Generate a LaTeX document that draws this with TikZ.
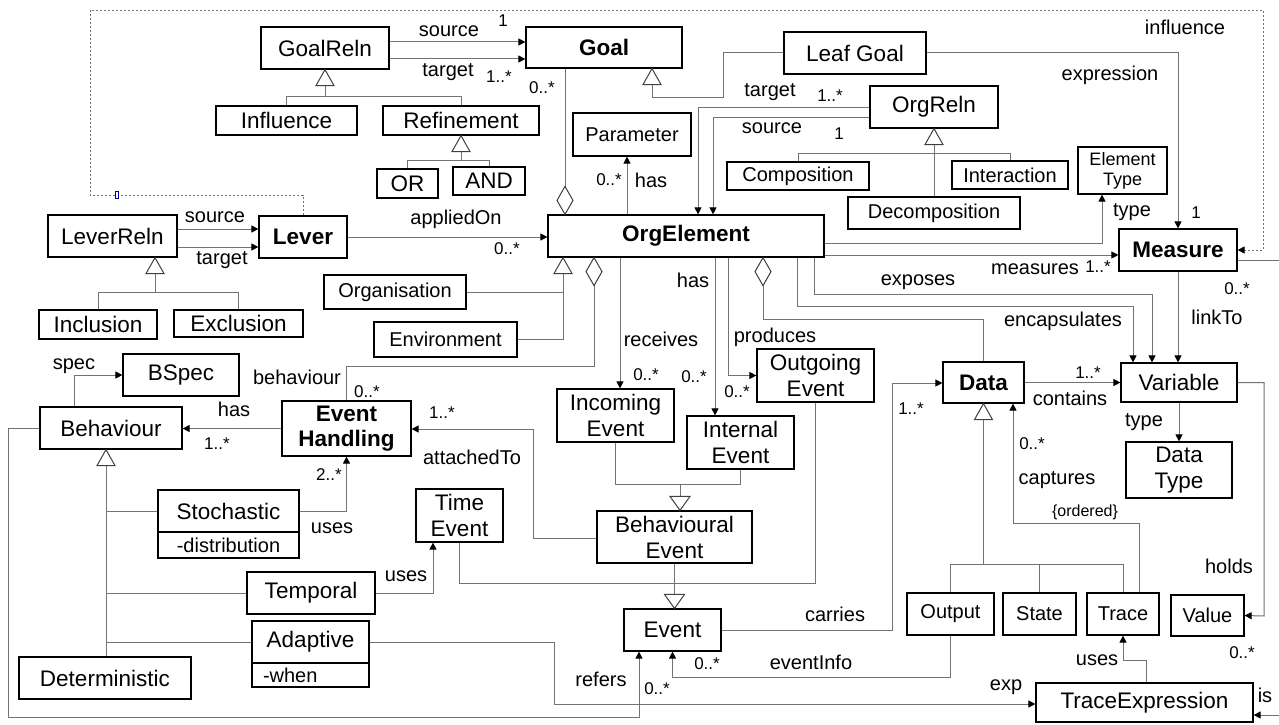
\documentclass[tikz,border=0pt]{standalone}
\usepackage{fontspec}
\setmainfont{Liberation Sans}
\usetikzlibrary{arrows.meta,calc}

% text sizes
\newcommand\fcls{\fontsize{22.5}{26}\selectfont}
\newcommand\fbold{\fontsize{22.5}{25}\selectfont\bfseries}
\newcommand\fsm{\fontsize{20}{24}\selectfont}
\newcommand\fet{\fontsize{18}{20}\selectfont}
\newcommand\fmul{\fontsize{17}{20}\selectfont}
\newcommand\ford{\fontsize{16}{18}\selectfont}

% class box given by its corners: [style]{name}{x1}{y1}{x2}{y2}{text}
\newcommand\umlcls[7][]{%
  \node[cls,#1,minimum width={#5-#3},minimum height={#6-#4}] (#2) at ({(#3+#5)/2},{(#4+#6)/2}) {#7};}
% open generalisation triangles (apex on the parent)
\newcommand\genup[1]{\draw[gen] (#1) -- ++(-9,16) -- ++(18,0) -- cycle;}
\newcommand\gendown[1]{\draw[gen] (#1) -- ++(-10,-14) -- ++(20,0) -- cycle;}
% aggregation diamonds
\newcommand\aggup[1]{\draw[gen] (#1) -- ++(-8,-14) -- ++(8,-14) -- ++(8,14) -- cycle;}
\newcommand\aggdown[1]{\draw[gen] (#1) -- ++(-8,14) -- ++(8,14) -- ++(8,-14) -- cycle;}

\tikzset{
  cls/.style={draw=black, line width=1.2pt, fill=white, inner sep=0pt, align=center, font=\fcls},
  conn/.style={draw=black!55, line width=1pt},
  arr/.style={conn, -{Triangle[length=7pt,width=7pt,color=black]}},
  infl/.style={draw=black!55, line width=0.9pt, dash pattern=on 2pt off 2pt, -{Triangle[length=7pt,width=7pt,color=black]}},
  gen/.style={draw=black!75, line width=1pt, fill=white},
  lbl/.style={inner sep=0pt, font=\fsm},
  mul/.style={inner sep=0pt, font=\fmul},
  ord/.style={inner sep=0pt, font=\ford},
}

\begin{document}
\begin{tikzpicture}[x=1pt,y=-1pt]
\useasboundingbox[fill=white] (0,0) rectangle (1279,725);

% ---------- classes ----------
\umlcls{GR}{261}{27}{389}{69}{GoalReln}
\umlcls[font=\fbold]{Goal}{526}{27}{682}{68}{Goal}
\umlcls{Infl}{216}{106}{357}{135}{Influence}
\umlcls{Ref}{383}{106}{539}{135}{Refinement}
\umlcls{OR}{377}{169}{438}{198}{OR}
\umlcls{AND}{453}{167}{525}{195}{AND}
\umlcls{Leaf}{784}{32}{926}{74}{Leaf Goal}
\umlcls{OrgR}{870}{86}{998}{128}{OrgReln}
\umlcls[font=\fsm]{Param}{573}{113}{691}{156}{Parameter}
\umlcls[font=\fsm]{Comp}{727}{162}{869}{190}{Composition}
\umlcls[font=\fsm]{Decomp}{848}{197}{1020}{229}{Decomposition}
\umlcls[font=\fsm]{Inter}{952}{161}{1068}{189}{Interaction}
\umlcls[font=\fet]{ET}{1078}{147}{1167}{194}{Element\\Type}
\umlcls{LR}{48}{215}{177}{257}{LeverReln}
\umlcls[font=\fbold]{Lever}{259}{216}{347}{258}{Lever}
\umlcls[font=\fbold]{OE}{548}{215}{824}{257}{OrgElement}
\umlcls[font=\fbold]{Meas}{1119}{229}{1237}{271}{Measure}
\umlcls{Incl}{39}{310}{157}{339}{Inclusion}
\umlcls{Excl}{174}{310}{303}{337}{Exclusion}
\umlcls[font=\fsm]{Org}{324}{275}{466}{309}{Organisation}
\umlcls[font=\fsm]{Env}{374}{322}{517}{357}{Environment}
\umlcls{BSpec}{123}{354}{239}{396}{BSpec}
\umlcls{Beh}{40}{407}{182}{449}{Behaviour}
\umlcls[font=\fbold]{EH}{282}{401}{411}{456}{Event\\Handling}
\umlcls{Inc}{557}{389}{674}{442}{Incoming\\Event}
\umlcls{Int}{687}{416}{794}{469}{Internal\\Event}
\umlcls{Out}{757}{349}{874}{402}{Outgoing\\Event}
\umlcls[font=\fbold]{Data}{943}{362}{1024}{403}{Data}
\umlcls{Var}{1121}{363}{1237}{402}{Variable}
\umlcls{DT}{1126}{442}{1232}{498}{Data\\Type}
\umlcls{Stoch}{158}{490}{299}{532}{Stochastic}
\umlcls[font=\fsm]{StochA}{158}{532}{299}{558}{-distribution}
\umlcls{TE}{416}{489}{503}{542}{Time\\Event}
\umlcls{BE}{597}{511}{752}{563}{Behavioural\\Event}
\umlcls{Temp}{247}{572}{375}{614}{Temporal}
\umlcls{Adapt}{252}{621}{369}{663}{Adaptive}
\umlcls[font=\fsm,align=left,text width=95pt]{AdaptA}{252}{663}{369}{687}{-when}
\umlcls{Det}{19}{657}{191}{699}{Deterministic}
\umlcls{Ev}{624}{609}{721}{651}{Event}
\umlcls[font=\fsm]{Outp}{907}{593}{994}{635}{Output}
\umlcls[font=\fsm]{State}{1003}{593}{1076}{635}{State}
\umlcls[font=\fsm]{Trace}{1087}{593}{1159}{635}{Trace}
\umlcls[font=\fsm]{Val}{1171}{595}{1244}{636}{Value}
\umlcls{TX}{1036}{683}{1253}{722}{TraceExpression}

\coordinate (isA) at (1279,260);
\coordinate (isB) at (1279,715);

% ---------- goal relations ----------
\draw[arr] (GR.east |- 0,42) -- (Goal.west |- 0,42);
\draw[arr] (GR.east |- 0,59) -- (Goal.west |- 0,59);
\draw[conn] ($(GR.south)+(0,16)$) -- (GR.south |- 0,96);
\draw[conn] (Infl.north) |- (Ref.north |- 0,96) -- (Ref.north);
\genup{GR.south}
\draw[conn] ($(Ref.south)+(0,16)$) -- (Ref.south |- 0,160);
\draw[conn] (OR.north) |- (AND.north |- 0,160) -- (AND.north);
\genup{Ref.south}

% goal aggregates org elements
\draw[conn] (Goal.south -| 565,0) -- (OE.north -| 565,0);
\aggup{OE.north -| 565,0}

% leaf goal
\draw[conn] (Leaf.west) -| (723,97) -| ($(Goal.south -| 652,0)+(0,16)$);
\genup{Goal.south -| 652,0}
\draw[arr] (Leaf.east) -| (Meas.north);

% org relations
\draw[arr] (OrgR.west |- 0,107) -| (OE.north -| 698,0);
\draw[arr] (OrgR.west |- 0,117) -| (OE.north -| 713,0);
\draw[conn] ($(OrgR.south)+(0,16)$) -- (Decomp.north);
\draw[conn] (Comp.north) |- (Inter.north |- 0,153) -- (Inter.north);
\genup{OrgR.south}

% parameter
\draw[arr] (OE.north -| 627,0) -- (Param.south -| 627,0);

% levers
\draw[arr] (LR.east |- 0,229) -- (Lever.west |- 0,229);
\draw[arr] (LR.east |- 0,247) -- (Lever.west |- 0,247);
\draw[conn] ($(LR.south -| 155,0)+(0,16)$) -- (155,292);
\draw[conn] (Incl.north) |- (Excl.north |- 0,292) -- (Excl.north);
\genup{LR.south -| 155,0}
\draw[arr] (Lever.east) -- (OE.west |- Lever.east);

% influence of a lever on a measure
\draw[infl] (Lever.north) |- (90,195) |- (1263,10) |- (Meas.east);
\draw[blue!60!black, line width=0.7pt, fill=white] (115.5,191.5) rectangle (118.5,198.5);

% org element to element type and measure
\draw[arr] (OE.east |- 0,243) -| (ET.south -| 1102,0);
\draw[arr] (OE.east |- 0,255) -- (Meas.west |- 0,255);
\draw[arr] (Meas.south) -- (Var.north -| Meas.south);
\draw[conn] (Meas.east |- 0,260) -- (isA);
\draw[arr] (isB) -- (TX.east |- isB);

% org element to variables and data
\draw[arr] (OE.south -| 814,0) |- (1152,294) -- (Var.north -| 1152,0);
\draw[arr] (OE.south -| 797,0) |- (1133,306) -- (Var.north -| 1133,0);
\draw[conn] (OE.south -| 763,0) |- (Data.north |- 0,319) -- (Data.north);
\aggdown{OE.south -| 763,0}

% data
\draw[arr] (Data.east) -- (Var.west |- Data.east);
\draw[arr] (Var.south) -- (DT.north);
\draw[arr] (Var.east) -| (1264,616) -- (Val.east);
\draw[conn] ($(Data.south)+(0,16)$) -- (Data.south |- 0,564);
\draw[conn] (Outp.north) |- (Trace.north |- 0,564) -- (Trace.north);
\draw[conn] (State.north) -- (State.north |- 0,564);
\genup{Data.south}
\draw[arr] (Trace.north -| 1139,0) |- (1013,523) -- (Data.south -| 1013,0);
\draw[arr] (TX.north -| 1146,0) |- (1123,660) -- (Trace.south);

% events
\draw[arr] (OE.south -| 620,0) -- (Inc.north -| 620,0);
\draw[arr] (OE.south -| 715,0) -- (Int.north -| 715,0);
\draw[arr] (OE.south -| 728,0) |- (Out.west);
\draw[conn] (Inc.south) |- (Int.south |- 0,484) -- (Int.south);
\draw[conn] (680,484) -- ($(BE.north -| 680,0)+(0,-14)$);
\gendown{BE.north -| 680,0}
\draw[conn] (BE.south) -- ($(Ev.north -| BE.south)+(0,-14)$);
\draw[conn] (TE.south) |- (Out.south |- 0,583) -- (Out.south);
\gendown{Ev.north -| BE.south}
\draw[arr] (BE.west |- 0,538) -| (533,429) -- (EH.east |- 0,429);
\draw[arr] (Outp.south) |- (Ev.south |- 0,677) -- (Ev.south);
\draw[arr] (Beh.west) -| (8,717) -| (Ev.south -| 639,0);
\draw[arr] (Ev.east) -| (892,383) -- (Data.west |- 0,383);

% organisation, environment, event handling
\draw[conn] (OE.south -| 594,0) |- (EH.north |- 0,366) -- (EH.north);
\aggdown{OE.south -| 594,0}
\draw[conn] ($(OE.south -| 563,0)+(0,16)$) |- (Env.east);
\draw[conn] (Org.east) -- (Org.east -| 563,0);
\genup{OE.south -| 563,0}

% behaviour
\draw[arr] (EH.west) -- (Beh.east |- EH.west);
\draw[arr] (Beh.north -| 74,0) |- (BSpec.west);
\draw[conn] ($(Beh.south -| 106,0)+(0,16)$) -- (Det.north -| 106,0);
\draw[conn] (Stoch.west) -- (Stoch.west -| 106,0);
\draw[conn] (Temp.west) -- (Temp.west -| 106,0);
\draw[conn] (Adapt.west) -- (Adapt.west -| 106,0);
\genup{Beh.south -| 106,0}
\draw[arr] (Stoch.east) -| (EH.south);
\draw[arr] (Temp.east) -| (TE.south -| 433,0);
\draw[arr] (Adapt.east) -| (554,704) -- (TX.west |- 0,704);

% ---------- role names and multiplicities ----------
\node[lbl] (lGRs) at (449,31) {source};
\node[mul] (mGRs) at (503,21) {1};
\node[lbl] (lGRt) at (448,72) {target};
\node[mul] (mGRt) at (499,77) {1..*};
\node[mul] (mGoal) at (542,88) {0..*};
\node[mul] (mPar) at (609,180) {0..*};
\node[lbl] (lPar) at (651,180) {has};
\node[lbl] (lApp) at (456,219) {appliedOn};
\node[mul] (mApp) at (507,249) {0..*};
\node[lbl] (lLRs) at (215,217) {source};
\node[lbl] (lLRt) at (222,260) {target};
\node[lbl] (lORt) at (770,92) {target};
\node[mul] (mORt) at (830,96) {1..*};
\node[lbl] (lORs) at (772,128) {source};
\node[mul] (mORs) at (839,134) {1};
\node[lbl] (lInf) at (1185,27) {influence};
\node[lbl] (lExp) at (1110,75) {expression};
\node[mul] (mExp) at (1196,213) {1};
\node[lbl] (lET) at (1132,212) {type};
\node[lbl] (lMeas) at (1035,269) {measures};
\node[mul] (mMeas) at (1098,267) {1..*};
\node[mul] (mLink) at (1237,289) {0..*};
\node[lbl] (lLink) at (1217,317) {linkTo};
\node[lbl] (lExpo) at (918,282) {exposes};
\node[lbl] (lEnc) at (1063,321) {encapsulates};
\node[mul] (mCont) at (1088,373) {1..*};
\node[lbl] (lCont) at (1070,398) {contains};
\node[lbl] (lType) at (1144,422) {type};
\node[mul] (mCap) at (1032,444) {0..*};
\node[lbl] (lCap) at (1057,480) {captures};
\node[ord] (lOrd) at (1085,512) {\{ordered\}};
\node[lbl] (lHold) at (1229,566) {holds};
\node[mul] (mHold) at (1242,653) {0..*};
\node[lbl] (lUse3) at (1097,660) {uses};
\node[lbl] (lExpr) at (1006,687) {exp};
\node[lbl] (lIs) at (1265,695) {is};
\node[lbl] (lInfo) at (811,662) {eventInfo};
\node[mul] (mInfo) at (707,664) {0..*};
\node[lbl] (lRef) at (601,679) {refers};
\node[mul] (mRef) at (657,689) {0..*};
\node[lbl] (lCar) at (835,614) {carries};
\node[mul] (mCar) at (911,409) {1..*};
\node[lbl] (lRec) at (661,339) {receives};
\node[mul] (mRec) at (646,375) {0..*};
\node[lbl] (lHas2) at (693,280) {has};
\node[mul] (mHas2) at (694,377) {0..*};
\node[lbl] (lProd) at (775,337) {produces};
\node[mul] (mProd) at (737,392) {0..*};
\node[lbl] (lBeh) at (297,377) {behaviour};
\node[mul] (mBeh) at (367,392) {0..*};
\node[mul] (mAtt) at (442,413) {1..*};
\node[lbl] (lAtt) at (472,457) {attachedTo};
\node[lbl] (lHas1) at (234,409) {has};
\node[mul] (mHas1) at (217,444) {1..*};
\node[lbl] (lSpec) at (74,366) {spec};
\node[mul] (mUse1) at (329,475) {2..*};
\node[lbl] (lUse1) at (332,528) {uses};
\node[lbl] (lUse2) at (406,576) {uses};
\end{tikzpicture}
\end{document}
